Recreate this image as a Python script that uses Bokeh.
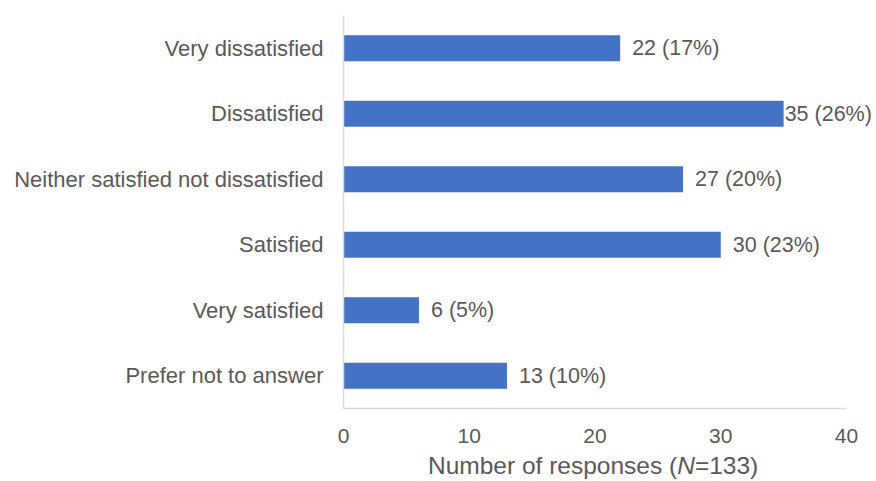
from bokeh.plotting import figure
from bokeh.models import ColumnDataSource, FactorRange, Range1d, Div
from bokeh.layouts import column
from bokeh.embed import file_html
from bokeh.resources import INLINE
from bokeh.core.properties import value

categories = ["Very dissatisfied", "Dissatisfied", "Neither satisfied not dissatisfied",
              "Satisfied", "Very satisfied", "Prefer not to answer"]
counts = [22, 35, 27, 30, 6, 13]
percents = [17, 26, 20, 23, 5, 10]
x_ticks = [0, 10, 20, 30, 40]
x_title = ("Number of responses (", "N", "=133)")

FONT = "Liberation Sans"
GRAY = "#595959"
BAR = "#4472C4"

W, H = 876, 455
LEFT, RIGHT_AT_40, TOP, BOTTOM = 343, 846, 15, 408

labels = [f"{c} ({p}%)" for c, p in zip(counts, percents)]
offsets = [12 if c < 33 else 1 for c in counts]
src = ColumnDataSource(dict(cat=categories, n=counts, lab=labels, off=offsets))

x_end = 40 * (W - LEFT) / (RIGHT_AT_40 - LEFT)
p = figure(width=W, height=H, output_backend="svg", toolbar_location=None,
           y_range=FactorRange(factors=list(reversed(categories)), range_padding=0),
           x_range=Range1d(0, x_end),
           min_border_left=LEFT, min_border_right=0, min_border_top=TOP,
           min_border_bottom=H - BOTTOM)

p.hbar(y="cat", right="n", left=0, height=0.4, source=src, color=BAR, line_color=None)
p.text(x="n", y="cat", text="lab", source=src, x_offset="off", text_align="left",
       text_baseline="middle", text_font=value(FONT), text_font_size="21.5px", text_color=GRAY)

p.outline_line_color = None
p.xgrid.grid_line_color = None
p.ygrid.grid_line_color = None
p.border_fill_color = "white"

for ax in (p.xaxis[0], p.yaxis[0]):
    ax.axis_line_color = "#D9D9D9"
    ax.axis_line_width = 1.5
    ax.major_tick_line_color = None
    ax.minor_tick_line_color = None
    ax.major_tick_out = 0
    ax.major_tick_in = 0
    ax.major_label_text_font = FONT
    ax.major_label_text_color = GRAY
    ax.major_label_standoff = 20

p.xaxis.ticker = x_ticks
p.xaxis.bounds = (0, 40)
p.xaxis.major_label_text_font_size = "21px"
p.yaxis.major_label_text_font_size = "22px"

title_html = (f'<div style="position:relative; left:428px; top:-2px; white-space:nowrap; '
              f'font-family:\'{FONT}\'; font-size:24.5px; line-height:26px; color:{GRAY};">'
              f'{x_title[0]}<i>{x_title[1]}</i>{x_title[2]}</div>')
div = Div(text=title_html, width=W, height=481 - H, margin=0)

layout = column(p, div, spacing=0)
open("out.html", "w").write(file_html(layout, INLINE))
